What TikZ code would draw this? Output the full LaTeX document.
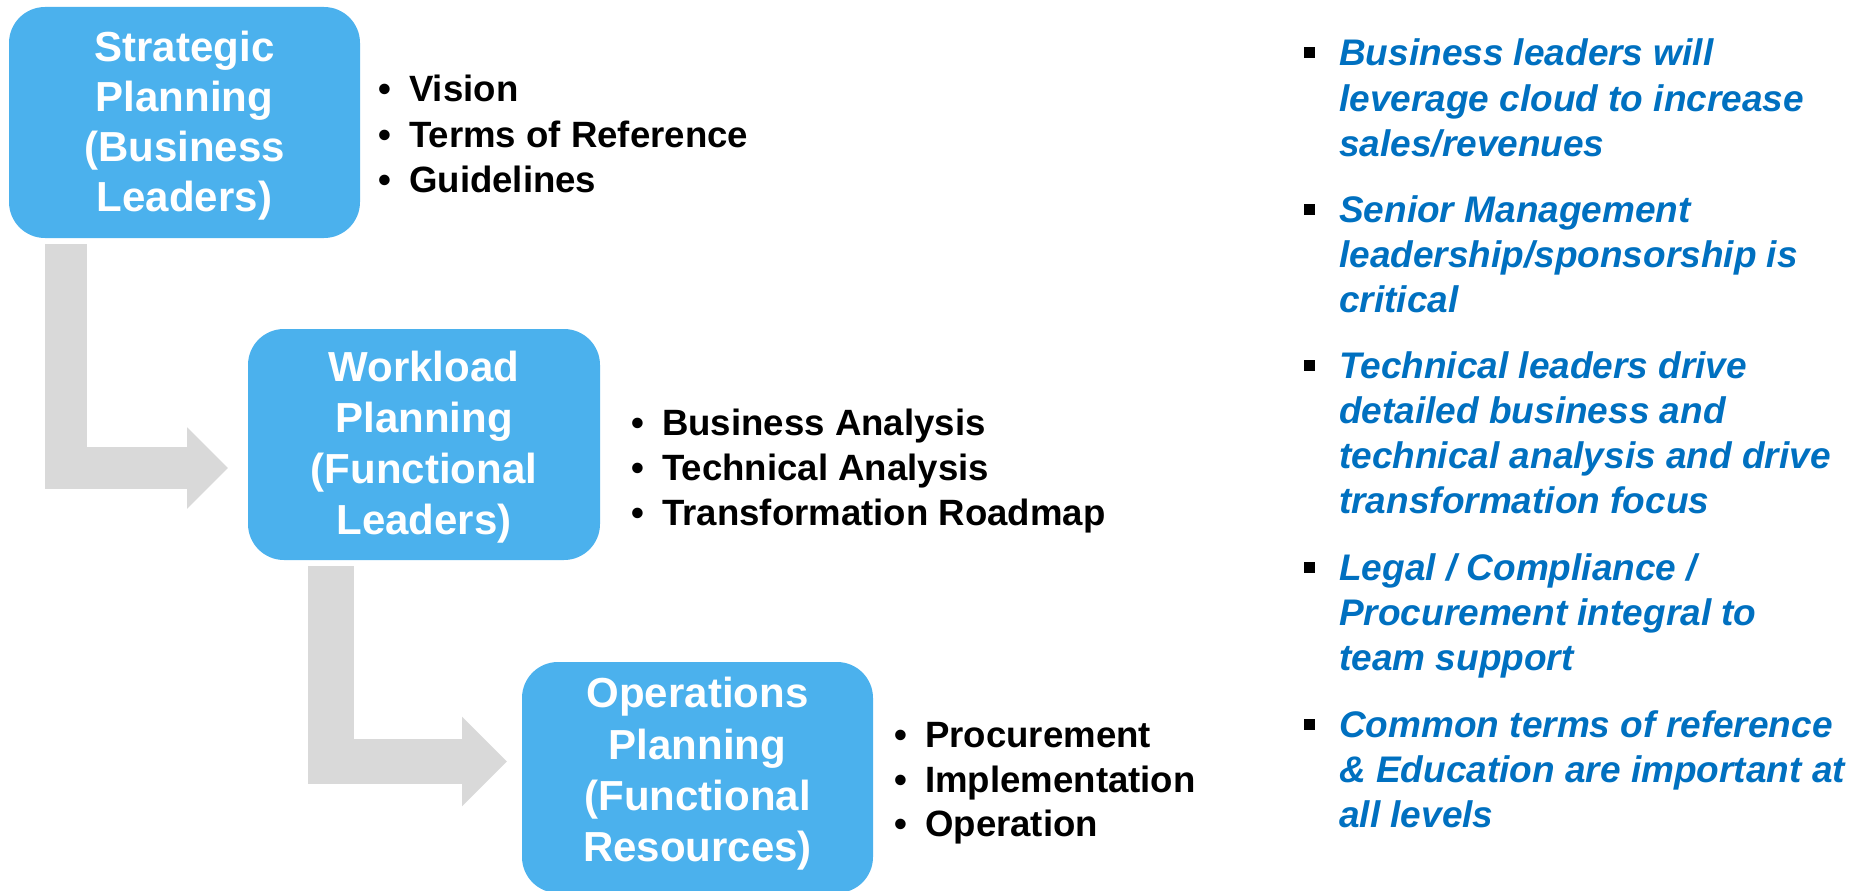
\documentclass[tikz,border=0pt]{standalone}
\usepackage{fontspec}
\setmainfont{Liberation Sans}
\usetikzlibrary{arrows.meta}
\definecolor{boxblue}{RGB}{75,177,237}
\definecolor{arrowgray}{RGB}{217,217,217}
\definecolor{noteblue}{RGB}{0,112,192}
\begin{document}
\begin{tikzpicture}[x=1pt,y=-1pt,
  stagebox/.style={fill=boxblue, draw=none, rounded corners=36pt, inner sep=0pt},
  stagetext/.style={text=white, align=center, inner sep=0pt},
  itemtext/.style={anchor=base west, inner sep=0pt, font=\fontsize{36.6}{45}\selectfont\bfseries},
  notetext/.style={anchor=base west, inner sep=0pt, text=noteblue, font=\fontsize{37}{45}\selectfont\bfseries\itshape},
  notebullet/.style={fill=black, draw=none, minimum size=11pt, inner sep=0pt},
  flow/.style={draw=arrowgray, line join=miter, line cap=butt}
]
\useasboundingbox (0,0) rectangle (1858,891);

% stage boxes
\node[stagebox, minimum width=351pt, minimum height=231pt] (s1) at (184.5,122.5) {};
\node[stagebox, minimum width=352pt, minimum height=231pt] (s2) at (424,444.5) {};
\node[stagebox, minimum width=351pt, minimum height=231pt] (s3) at (697.5,777.5) {};

\node[stagetext, font=\fontsize{42}{50}\selectfont\bfseries] (s1t) at (184.5,126) {Strategic\\Planning\\(Business\\Leaders)};
\node[stagetext, font=\fontsize{42}{51}\selectfont\bfseries] (s2t) at (424,447.5) {Workload\\Planning\\(Functional\\Leaders)};
\node[stagetext, font=\fontsize{42}{51.3}\selectfont\bfseries] (s3t) at (697.5,774) {Operations\\Planning\\(Functional\\Resources)};

% flow arrows
\coordinate (a1start) at (66,244);
\coordinate (a1end) at (228,468);
\draw[flow, line width=42pt, -{Triangle[length=41pt,width=79pt]}] (a1start) |- (a1end);
\coordinate (a2start) at (331,566);
\coordinate (a2end) at (507,761.5);
\draw[flow, line width=45.5pt, -{Triangle[length=45pt,width=87pt]}] (a2start) |- (a2end);

% bullet items
\node[itemtext] (i11) at (378,102) {\makebox[31pt][l]{•}Vision};
\node[itemtext] (i12) at (378,147) {\makebox[31pt][l]{•}Terms of Reference};
\node[itemtext] (i13) at (378,192) {\makebox[31pt][l]{•}Guidelines};
\node[itemtext] (i21) at (631,435) {\makebox[31pt][l]{•}Business Analysis};
\node[itemtext] (i22) at (631,480) {\makebox[31pt][l]{•}Technical Analysis};
\node[itemtext] (i23) at (631,525) {\makebox[31pt][l]{•}Transformation Roadmap};
\node[itemtext] (i31) at (894,747) {\makebox[31pt][l]{•}Procurement};
\node[itemtext] (i32) at (894,792) {\makebox[31pt][l]{•}Implementation};
\node[itemtext] (i33) at (894,836) {\makebox[31pt][l]{•}Operation};

% notes
\node[notebullet] (b1) at (1309.5,53) {};
\node[notetext] (n11) at (1339,66) {Business leaders will};
\node[notetext] (n12) at (1339,111) {leverage cloud to increase};
\node[notetext] (n13) at (1339,156) {sales/revenues};

\node[notebullet] (b2) at (1309.5,209) {};
\node[notetext] (n21) at (1339,222) {Senior Management};
\node[notetext] (n22) at (1339,267) {leadership/sponsorship is};
\node[notetext] (n23) at (1339,312) {critical};

\node[notebullet] (b3) at (1309.5,365) {};
\node[notetext] (n31) at (1339,378) {Technical leaders drive};
\node[notetext] (n32) at (1339,423) {detailed business and};
\node[notetext] (n33) at (1339,468) {technical analysis and drive};
\node[notetext] (n34) at (1339,513) {transformation focus};

\node[notebullet] (b4) at (1309.5,567) {};
\node[notetext] (n41) at (1339,580) {Legal / Compliance /};
\node[notetext] (n42) at (1339,625) {Procurement integral to};
\node[notetext] (n43) at (1339,670) {team support};

\node[notebullet] (b5) at (1309.5,724) {};
\node[notetext] (n51) at (1339,737) {Common terms of reference};
\node[notetext] (n52) at (1339,782) {\& Education are important at};
\node[notetext] (n53) at (1339,827) {all levels};
\end{tikzpicture}
\end{document}
